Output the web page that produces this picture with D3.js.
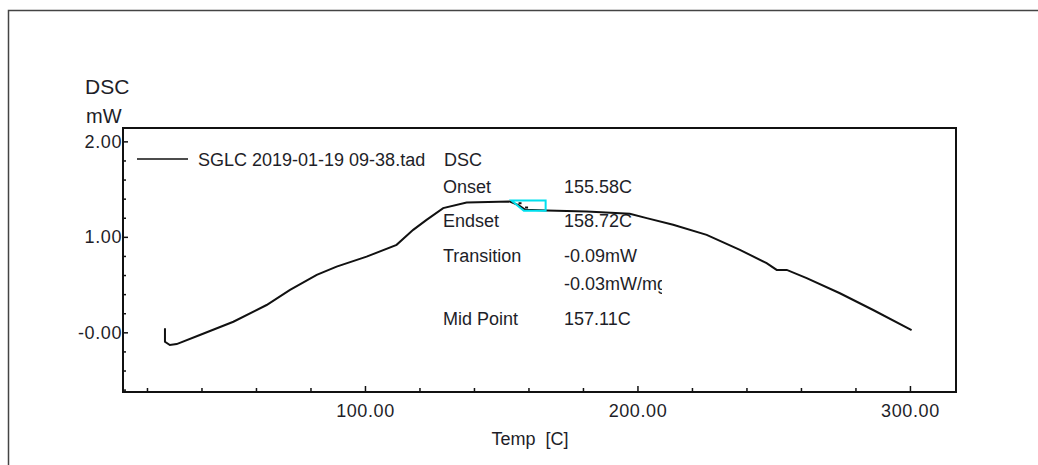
<!DOCTYPE html>
<html>
<head>
<meta charset="utf-8">
<script src="https://cdn.jsdelivr.net/npm/d3@7"></script>
<style>
  body { margin: 0; background: #fff; }
  text { font-family: "Liberation Sans", Arial, sans-serif; fill: #1e1e28; }
</style>
</head>
<body>
<script>
// DSC curve: temperature [C] and heat flow [mW]
let temps = [26.6, 26.6, 28.4, 30.9, 39.4, 51.7, 63.9, 72.5, 82.3, 89.6, 100.6, 111.6,
  117.7, 122.6, 128.7, 137.3, 153.2, 156.5, 158.7, 166.7, 181.4, 197.2, 203.4, 213.1,
  225.4, 237.6, 247.4, 251.1, 254.8, 262.1, 274.3, 286.5, 300.6];
let flows = [0.042, -0.099, -0.133, -0.123, -0.028, 0.111, 0.286, 0.444, 0.601, 0.688, 0.793, 0.916,
  1.073, 1.178, 1.301, 1.360, 1.370, 1.330, 1.285, 1.276, 1.265, 1.241, 1.196, 1.126,
  1.021, 0.864, 0.724, 0.654, 0.654, 0.567, 0.409, 0.234, 0.024];

// cyan analysis box around the onset / endset
let boxTemps = [153.8, 156.5, 158.3, 166.3, 166.3];
let boxFlows = [1.381, 1.315, 1.273, 1.273, 1.381];
let markTemps = [156.9, 159.3];
let markFlows = [1.352, 1.307];

// tick labels
let yMajor = [0, 1, 2];
let yLabels = ["-0.00", "1.00", "2.00"];
let yMinor = [-0.6, -0.4, -0.2, 0.2, 0.4, 0.6, 0.8, 1.2, 1.4, 1.6, 1.8];
let xMajor = [100, 200, 300];
let xLabels = ["100.00", "200.00", "300.00"];
let xMinor = [20, 40, 60, 80, 120, 140, 160, 180, 220, 240, 260, 280];

let legendName = "SGLC 2019-01-19 09-38.tad";
let legendSignal = "DSC";
let annotNames = ["Onset", "Endset", "Transition", "", "Mid Point"];
let annotValues = ["155.58C", "158.72C", "-0.09mW", "-0.03mW/mg", "157.11C"];

let W = 1038, H = 465;
let plot = {left: 123, top: 128, right: 956, bottom: 392};

let svg = d3.select("body").append("svg")
  .attr("width", W)
  .attr("height", H);

// outer frame (runs off the right and bottom edges)
svg.append("rect")
  .attr("x", 8.5).attr("y", 10.5)
  .attr("width", 1200).attr("height", 600)
  .attr("fill", "none")
  .attr("stroke", "#444")
  .attr("stroke-width", 1.5);

let x = d3.scaleLinear().domain([11.2, 316.9]).range([plot.left, plot.right]);
let y = d3.scaleLinear().domain([-0.625, 2.14]).range([plot.bottom, plot.top]);

// y axis: minor ticks then major ticks with labels
let yMinorG = svg.append("g")
  .attr("transform", "translate(" + plot.left + ",0)")
  .call(d3.axisLeft(y).tickValues(yMinor).tickSize(-3).tickFormat(""));
let yMajorG = svg.append("g")
  .attr("transform", "translate(" + plot.left + ",0)")
  .call(d3.axisLeft(y).tickValues(yMajor).tickSize(-5).tickPadding(1)
    .tickFormat(function(d, i) { return yLabels[i]; }));

// x axis
let xMinorG = svg.append("g")
  .attr("transform", "translate(0," + plot.bottom + ")")
  .call(d3.axisBottom(x).tickValues(xMinor).tickSize(-4).tickFormat(""));
let xMajorG = svg.append("g")
  .attr("transform", "translate(0," + plot.bottom + ")")
  .call(d3.axisBottom(x).tickValues(xMajor).tickSize(-6).tickPadding(12)
    .tickFormat(function(d, i) { return xLabels[i]; }));

[yMinorG, yMajorG, xMinorG, xMajorG].forEach(function(g) {
  g.select(".domain").remove();
  g.selectAll("line").attr("stroke", "#111").attr("stroke-width", 1.5);
  g.selectAll("text")
    .style("font-family", "'Liberation Sans', Arial, sans-serif")
    .style("font-size", "18px")
    .style("letter-spacing", "0.6px")
    .attr("fill", "#1e1e28");
});

// plot box
svg.append("rect")
  .attr("x", plot.left).attr("y", plot.top)
  .attr("width", plot.right - plot.left)
  .attr("height", plot.bottom - plot.top)
  .attr("fill", "none")
  .attr("stroke", "#111")
  .attr("stroke-width", 2);

// axis titles
svg.append("text").attr("x", 85).attr("y", 94)
  .style("font-size", "21px").text("DSC");
svg.append("text").attr("x", 86).attr("y", 123)
  .style("font-size", "20px").text("mW");
svg.append("text").attr("x", 530).attr("y", 445)
  .attr("text-anchor", "middle")
  .style("font-size", "18px")
  .attr("xml:space", "preserve")
  .text("Temp  [C]");

// legend
svg.append("line")
  .attr("x1", 137).attr("x2", 188)
  .attr("y1", 159).attr("y2", 159)
  .attr("stroke", "#111").attr("stroke-width", 1.5);
svg.append("text").attr("x", 198).attr("y", 166)
  .style("font-size", "18px").text(legendName);
svg.append("text").attr("x", 444).attr("y", 166)
  .style("font-size", "18px").text(legendSignal);

// analysis results, the last column is cut off like the original
svg.append("clipPath").attr("id", "annotClip")
  .append("rect").attr("x", 0).attr("y", 0).attr("width", 662).attr("height", H);
let baselines = [193, 227, 262, 290, 325];
annotNames.forEach(function(n, i) {
  svg.append("text").attr("x", 443).attr("y", baselines[i])
    .style("font-size", "18px").text(n);
  svg.append("text").attr("x", 564).attr("y", baselines[i])
    .attr("clip-path", "url(#annotClip)")
    .style("font-size", "18px").text(annotValues[i]);
});

// the DSC curve
let data = temps.map(function(t, i) { return {t: t, v: flows[i]}; });
let valueline = d3.line()
  .x(function(d) { return x(d.t); })
  .y(function(d) { return y(d.v); });
svg.append("path")
  .datum(data)
  .attr("fill", "none")
  .attr("stroke", "#111")
  .attr("stroke-width", 2)
  .attr("d", valueline);

// cyan onset/endset box
let box = boxTemps.map(function(t, i) { return {t: t, v: boxFlows[i]}; });
svg.append("path")
  .datum(box)
  .attr("fill", "none")
  .attr("stroke", "#00e0ee")
  .attr("stroke-width", 2)
  .attr("d", valueline.curve(d3.curveLinearClosed));

svg.selectAll(".mark")
  .data(markTemps)
  .enter().append("rect")
  .attr("class", "mark")
  .attr("x", function(d) { return x(d) - 1.5; })
  .attr("y", function(d, i) { return y(markFlows[i]) - 1; })
  .attr("width", 3).attr("height", 2)
  .attr("fill", "#111");
</script>
</body>
</html>
